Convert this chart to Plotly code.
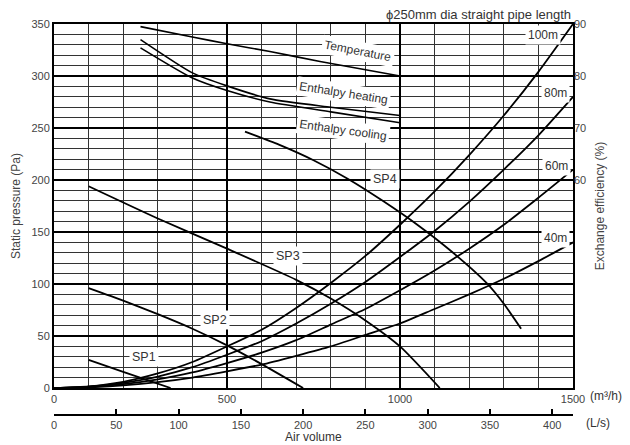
import plotly.graph_objects as go

# ---------------- data ----------------
airflow_grid = [0, 100, 200, 300, 400, 500, 600, 700, 800, 900, 1000, 1100, 1200, 1300, 1400, 1500]
duct_100m = [0, 1.6, 6, 14, 25, 40, 56, 77, 101, 127, 157, 189, 224, 262, 304, 350]
duct_80m = [0, 1.3, 5, 11, 20, 32, 45, 62, 81, 102, 126, 151, 179, 210, 243, 280]
duct_60m = [0, 1.0, 3.7, 8.4, 15, 24, 34, 46, 61, 76, 94, 113, 134, 157, 183, 210]
duct_40m = [0, 0.6, 2.5, 5.6, 10, 16, 22.5, 31, 40, 51, 62, 76, 90, 105, 122, 140]

sp1_q = [100, 200, 337]
sp1_p = [27, 15.5, 0]
sp2_q = [100, 200, 300, 400, 500, 600, 720]
sp2_p = [96, 84, 71, 57, 41, 23, 0]
sp3_q = [100, 300, 500, 700, 800, 900, 1000, 1115]
sp3_p = [194, 163, 134, 104, 86, 65, 40, 0]
sp4_q = [552, 650, 750, 850, 950, 1050, 1150, 1250, 1300, 1350]
sp4_p = [246.5, 234, 219, 201, 180, 157, 131, 101, 81, 57]

temp_q = [250, 400, 500, 624, 769, 1000]
temp_eff = [89.5, 87.5, 86.2, 84.7, 82.8, 80.0]
heat_q = [250, 400, 500, 624, 800, 1000]
heat_eff = [87.0, 80.6, 78.1, 75.6, 74.0, 72.4]
cool_q = [250, 400, 500, 624, 800, 1000]
cool_eff = [85.4, 79.6, 77.2, 75.0, 73.1, 71.0]

x_ticks_m3h = [0, 500, 1000, 1500]
x_ticks_ls = [0, 50, 100, 150, 200, 250, 300, 350, 400]
y_ticks_pa = [0, 50, 100, 150, 200, 250, 300, 350]
y_ticks_eff = [60, 70, 80, 90]

FONT = "Liberation Sans, Arial, sans-serif"
LBL = "#333333"
TICK = "#444444"

fig = go.Figure()

def add_line(x, y, yaxis="y", width=1.8, smooth=0.6):
    fig.add_trace(go.Scatter(x=x, y=y, mode="lines", yaxis=yaxis,
                             line=dict(color="black", width=width, shape="spline", smoothing=smooth),
                             hoverinfo="skip", showlegend=False))

for d in (duct_100m, duct_80m, duct_60m, duct_40m):
    add_line(airflow_grid, d)
add_line(sp1_q, sp1_p)
add_line(sp2_q, sp2_p)
add_line(sp3_q, sp3_p)
add_line(sp4_q, sp4_p)
add_line(temp_q, temp_eff, "y2", 1.6)
add_line(heat_q, heat_eff, "y2", 1.6)
add_line(cool_q, cool_eff, "y2", 1.6)

# helper trace so the L/s axis is drawn
fig.add_trace(go.Scatter(x=[0, 1500 / 3.6], y=[None, None], xaxis="x2", mode="lines",
                         hoverinfo="skip", showlegend=False))

labels = [
    ("100m", 1413, 339.4, 0, 12), ("80m", 1448, 283.7, 0, 12), ("60m", 1451, 213, 0, 12),
    ("40m", 1448, 144.7, 0, 12),
    ("Temperature", 879, 324, 11, 12), ("Enthalpy heating", 838, 284, 9, 12),
    ("Enthalpy cooling", 835, 248, 8, 12),
    ("SP4", 957, 201, 0, 12.5), ("SP3", 676, 127, 0, 12.5), ("SP2", 465, 65.4, 0, 12.5),
    ("SP1", 260, 29.8, 0, 12.5),
]
for text, qx, py, ang, fs in labels:
    fig.add_annotation(x=qx, y=py, xref="x", yref="y", text=text, showarrow=False,
                       textangle=ang, bgcolor="white", borderpad=2,
                       font=dict(family=FONT, size=fs, color=LBL))

fig.add_annotation(x=1, y=1.0, xref="paper", yref="paper", xanchor="right", yanchor="bottom",
                   text="ϕ250mm dia straight pipe length", showarrow=False, yshift=0,
                   font=dict(family=FONT, size=13, color=LBL))
fig.add_annotation(x=1.028, y=0.110, xref="paper", yref="paper", xanchor="left", yanchor="top",
                   text="(m³/h)", showarrow=False, yshift=1,
                   font=dict(family=FONT, size=12, color=LBL))
fig.add_annotation(x=1.021, y=0.0452, xref="paper", yref="paper", xanchor="left", yanchor="top",
                   text="(L/s)", showarrow=False, yshift=1,
                   font=dict(family=FONT, size=12, color=LBL))
fig.add_annotation(x=0.5, y=-0.0098, xref="paper", yref="paper", xanchor="center", yanchor="middle",
                   text="Air volume", showarrow=False,
                   font=dict(family=FONT, size=12, color=LBL))

fig.update_layout(
    width=622, height=437,
    margin=dict(l=46, r=57, t=16, b=12, autoexpand=False),
    paper_bgcolor="white", plot_bgcolor="white",
    font=dict(family=FONT, size=11, color=TICK),
    xaxis=dict(range=[0, 1500], domain=[0, 1], tickvals=x_ticks_m3h, ticks="", automargin=False,
               showgrid=True, gridcolor="black", gridwidth=2,
               minor=dict(dtick=100, showgrid=True, gridcolor="#333333", gridwidth=1),
               showline=True, linecolor="black", linewidth=2, mirror=True,
               zeroline=False, tickfont=dict(size=11, color=TICK)),
    xaxis2=dict(range=[0, 1500 / 3.6], overlaying="x", anchor="free", position=0.0452, automargin=False,
                side="bottom", tickvals=x_ticks_ls, ticks="inside", ticklen=5, tickwidth=2,
                tickcolor="black", showgrid=False, showline=True, linecolor="black", linewidth=2,
                zeroline=False, tickfont=dict(size=11, color=TICK)),
    yaxis=dict(range=[0, 350], domain=[0.110, 1], tickvals=y_ticks_pa, ticks="", automargin=False,
               showgrid=True, gridcolor="black", gridwidth=2,
               minor=dict(dtick=10, showgrid=True, gridcolor="#333333", gridwidth=1),
               showline=True, linecolor="black", linewidth=2, mirror=True, zeroline=False,
               title=dict(text="Static pressure (Pa)", standoff=8, font=dict(size=12, color=TICK)),
               tickfont=dict(size=11, color=TICK)),
    yaxis2=dict(range=[20, 90], overlaying="y", side="right", tickvals=y_ticks_eff, ticks="",
                showgrid=False, zeroline=False, showline=False, automargin=False,
                title=dict(text="Exchange efficiency (%)", standoff=10, font=dict(size=12, color=TICK)),
                tickfont=dict(size=11, color=TICK)),
)

fig.write_html("out.html")
